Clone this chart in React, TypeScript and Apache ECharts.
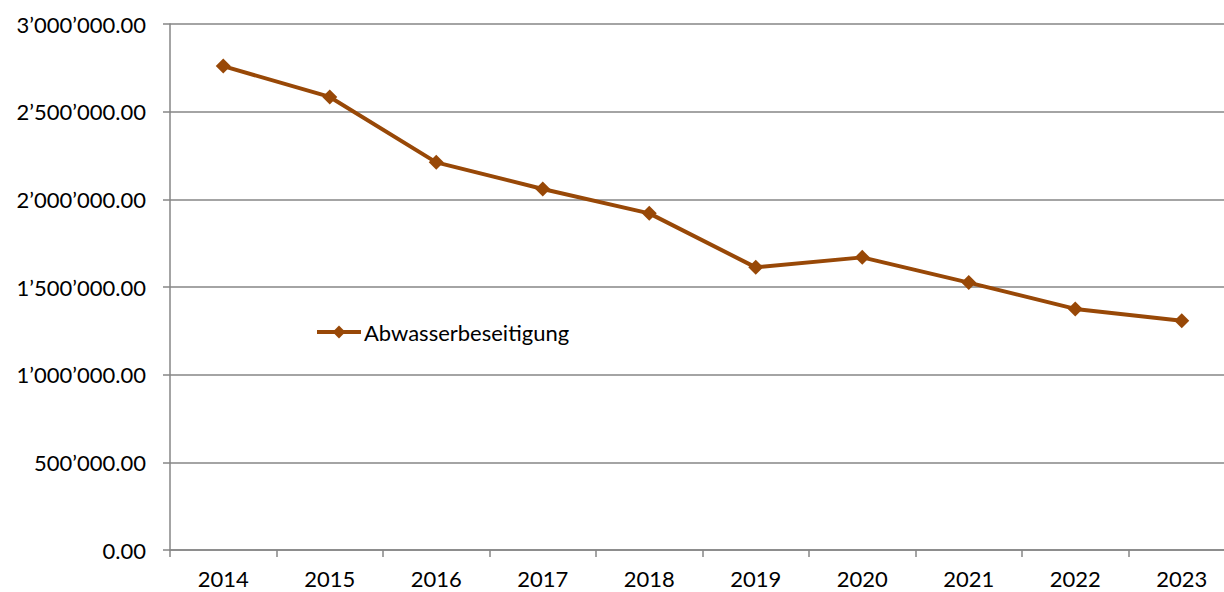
import React, { useEffect, useRef } from "react";
import * as echarts from "echarts";

const years = ["2014", "2015", "2016", "2017", "2018", "2019", "2020", "2021", "2022", "2023"];
const abwasser = [2760000, 2584000, 2211000, 2059000, 1920000, 1612000, 1669000, 1525000, 1375000, 1308000];
const seriesName = "Abwasserbeseitigung";

const FONT = "Lato, 'Open Sans', sans-serif";

function fmt(v: number): string {
  const fixed = v.toFixed(2);
  const [intPart, dec] = fixed.split(".");
  const withSep = intPart.replace(/\B(?=(\d{3})+(?!\d))/g, "\u2019");
  return withSep + "." + dec;
}

export default function App() {
  const ref = useRef<HTMLDivElement>(null);
  useEffect(() => {
    if (!ref.current) return;
    const chart = echarts.init(ref.current, undefined, { renderer: "svg" });
    const axisColor = "#868686";
    chart.setOption({
      animation: false,
      backgroundColor: "#ffffff",
      grid: { left: 170, right: 0, top: 24, bottom: 42, containLabel: false },
      legend: {
        left: 315,
        top: 321,
        padding: 0,
        itemWidth: 44,
        itemHeight: 16,
        itemGap: 4,
        lineStyle: { width: 4 },
        textStyle: { fontFamily: FONT, fontSize: 22, color: "#000", padding: [0, 0, 0, -2] },
        data: [seriesName],
      },
      xAxis: {
        type: "category",
        data: years,
        boundaryGap: true,
        axisLine: { show: true, lineStyle: { color: axisColor, width: 1.5 } },
        axisTick: { show: true, length: 7, alignWithLabel: false, lineStyle: { color: axisColor, width: 1.5 } },
        axisLabel: { fontFamily: FONT, fontSize: 22, color: "#000", margin: 17 },
        splitLine: { show: false },
      },
      yAxis: {
        type: "value",
        min: 0,
        max: 3000000,
        interval: 500000,
        axisLine: { show: true, lineStyle: { color: axisColor, width: 1.5 } },
        axisTick: { show: true, length: 7, lineStyle: { color: axisColor, width: 1.5 } },
        axisLabel: {
          fontFamily: FONT,
          fontSize: 22,
          color: "#000",
          margin: 24,
          formatter: (v: number) => fmt(v),
        },
        splitLine: { show: true, lineStyle: { color: axisColor, width: 1.5 } },
      },
      series: [
        {
          name: seriesName,
          type: "line",
          data: abwasser,
          symbol: "diamond",
          symbolSize: 15,
          showSymbol: true,
          lineStyle: { color: "#984807", width: 4 },
          itemStyle: { color: "#984807" },
        },
      ],
    });
    return () => chart.dispose();
  }, []);
  return (
    <div style={{ position: "fixed", left: 0, top: 0, width: 1224, height: 592, overflow: "hidden", background: "#fff" }}>
      <div ref={ref} style={{ width: 1235, height: 592 }} />
    </div>
  );
}
